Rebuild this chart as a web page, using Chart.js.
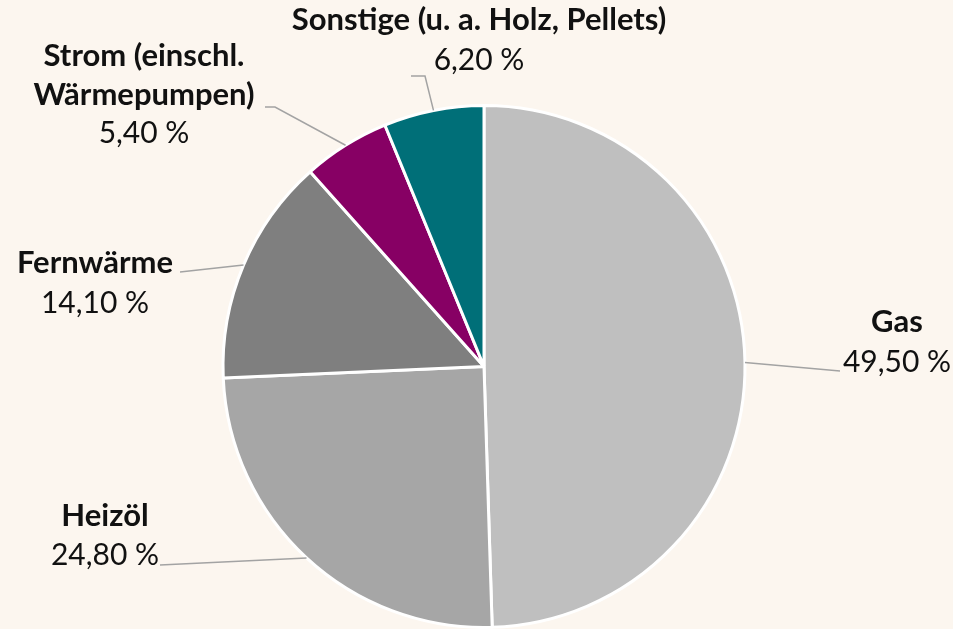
<!DOCTYPE html>
<html>
<head>
<meta charset="utf-8">
<script src="https://cdn.jsdelivr.net/npm/chart.js@4.4.1/dist/chart.umd.min.js"></script>
<style>
  html, body { margin: 0; padding: 0; background: #fcf6ef; }
  #wrap { width: 953px; height: 629px; }
</style>
</head>
<body>
<div id="wrap"><canvas id="heatChart" width="953" height="629"></canvas></div>
<script>
const categories = ['Gas', 'Heizöl', 'Fernwärme', 'Strom (einschl. Wärmepumpen)', 'Sonstige (u. a. Holz, Pellets)'];
const nameLines = [['Gas'], ['Heizöl'], ['Fernwärme'], ['Strom (einschl.', 'Wärmepumpen)'], ['Sonstige (u. a. Holz, Pellets)']];
const shares = [49.5, 24.8, 14.1, 5.4, 6.2];
const colors = ['#bfbfbf', '#a6a6a6', '#7f7f7f', '#870064', '#006f78'];

// where each label sits and how its leader line bends (canvas pixels)
const labelSpots = [
    {x: 897, nameY: 322, valueY: 362, line: [[840, 371]]},
    {x: 105, nameY: 516, valueY: 555, line: [[160, 565]]},
    {x: 95, nameY: 263, valueY: 303, line: [[180, 272]]},
    {x: 144, nameY: 56, valueY: 133, line: [[275, 107], [265, 107]]},
    {x: 479, nameY: 20, valueY: 60, line: [[425, 76], [411, 76]]}
];

const fmt = v => v.toFixed(2).replace('.', ',') + ' %';

const pieLabels = {
    id: 'pieLabels',
    afterDatasetsDraw(chart) {
        const ctx = chart.ctx;
        const arcs = chart.getDatasetMeta(0).data;
        ctx.save();
        arcs.forEach((arc, i) => {
            const spot = labelSpots[i];
            const mid = (arc.startAngle + arc.endAngle) / 2;
            const sx = arc.x + Math.cos(mid) * arc.outerRadius;
            const sy = arc.y + Math.sin(mid) * arc.outerRadius;
            ctx.strokeStyle = '#a3a3a3';
            ctx.lineWidth = 1.5;
            ctx.beginPath();
            ctx.moveTo(sx, sy);
            spot.line.forEach(p => ctx.lineTo(p[0], p[1]));
            ctx.stroke();

            ctx.fillStyle = '#111';
            ctx.textAlign = 'center';
            ctx.textBaseline = 'middle';
            ctx.font = 'bold 31px "Source Sans Pro", Lato, sans-serif';
            nameLines[i].forEach((t, k) => ctx.fillText(t, spot.x, spot.nameY + k * 39));
            ctx.font = '30px "Source Sans Pro", Lato, sans-serif';
            ctx.fillText(fmt(shares[i]), spot.x, spot.valueY);
        });
        ctx.restore();
    }
};

new Chart(document.getElementById('heatChart').getContext('2d'), {
    type: 'pie',
    data: {
        labels: categories,
        datasets: [{
            data: shares,
            backgroundColor: colors,
            borderColor: '#ffffff',
            borderWidth: 3
        }]
    },
    options: {
        responsive: false,
        animation: false,
        layout: {padding: {top: 104, bottom: 0, left: 221, right: 206}},
        plugins: {
            legend: {display: false},
            tooltip: {enabled: false}
        }
    },
    plugins: [pieLabels]
});
</script>
</body>
</html>
